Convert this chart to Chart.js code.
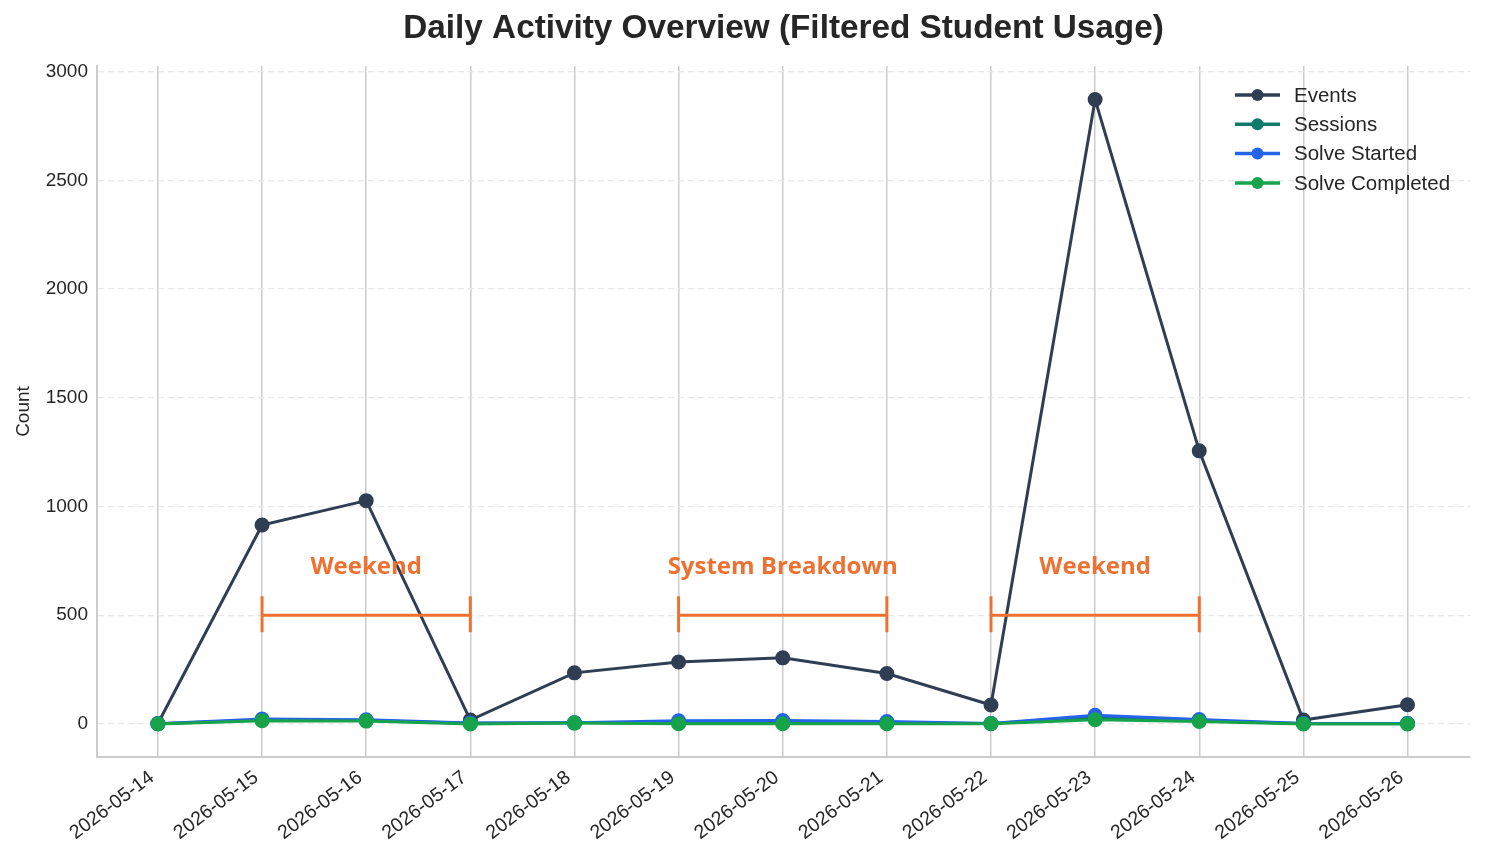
<!DOCTYPE html>
<html><head><meta charset="utf-8">
<script src="https://cdn.jsdelivr.net/npm/chart.js@4/dist/chart.umd.min.js"></script>
<style>html,body{margin:0;padding:0;background:#fff;}#wrap{width:1486px;height:855px;}</style>
</head><body><div id="wrap"><canvas id="c" width="1486" height="855"></canvas></div>
<script>
const categories = ["2026-05-14","2026-05-15","2026-05-16","2026-05-17","2026-05-18","2026-05-19","2026-05-20","2026-05-21","2026-05-22","2026-05-23","2026-05-24","2026-05-25","2026-05-26"];
const events = [2, 915, 1027, 18, 235, 285, 304, 232, 87, 2872, 1256, 18, 88];
const sessions = [1, 18, 16, 3, 5, 5, 5, 4, 2, 28, 15, 2, 2];
const solveStarted = [1, 23, 19, 4, 5, 15, 16, 11, 2, 40, 20, 2, 2];
const solveCompleted = [0, 15, 13, 0, 4, 1, 1, 1, 1, 19, 11, 0, 0];
const seriesNames = ["Events","Sessions","Solve Started","Solve Completed"];
const yTicks = [0, 500, 1000, 1500, 2000, 2500, 3000];
const annStart = [1, 5, 8];
const annEnd = [3, 7, 10];
const annLabels = ["Weekend","System Breakdown","Weekend"];
const annBarValue = 500;
const annTextValue = 720;

const colors = ["#2f3e53","#0f7a6a","#2563eb","#16a34a"];
const seriesData = [events, sessions, solveStarted, solveCompleted];
const FONT = "'Liberation Sans', Arial, sans-serif";

const datasets = seriesData.map((arr, i) => ({
  label: seriesNames[i],
  data: arr.map((v, k) => ({x: k, y: v})),
  borderColor: colors[i],
  backgroundColor: colors[i],
  pointBackgroundColor: colors[i],
  pointBorderColor: colors[i],
  borderWidth: 3,
  pointRadius: 6,
  pointHoverRadius: 6,
  tension: 0,
  order: 4 - i
}));

const overlay = {
  id: 'overlay',
  afterDatasetsDraw(chart) {
    const ctx = chart.ctx, xs = chart.scales.x, ys = chart.scales.y;
    ctx.save();
    // annotations
    ctx.strokeStyle = '#ee7131';
    ctx.fillStyle = '#ee7131';
    ctx.lineWidth = 3;
    const yb = ys.getPixelForValue(annBarValue);
    const yt = ys.getPixelForValue(annTextValue);
    annStart.forEach((s, i) => {
      const x1 = xs.getPixelForValue(s), x2 = xs.getPixelForValue(annEnd[i]);
      ctx.beginPath();
      ctx.moveTo(x1, yb); ctx.lineTo(x2, yb);
      ctx.moveTo(x1, yb - 19); ctx.lineTo(x1, yb + 17);
      ctx.moveTo(x2, yb - 19); ctx.lineTo(x2, yb + 17);
      ctx.stroke();
      ctx.font = "bold 24px 'Open Sans', sans-serif";
      ctx.textAlign = 'center'; ctx.textBaseline = 'middle';
      ctx.fillText(annLabels[i], (x1 + x2) / 2, yt);
    });
    // legend
    const lx = 1235, ly0 = 95, dy = 29.3;
    ctx.font = "20.5px " + FONT;
    ctx.textAlign = 'left'; ctx.textBaseline = 'middle';
    chart.data.datasets.forEach((d, i) => {
      const y = ly0 + i * dy;
      ctx.strokeStyle = d.borderColor; ctx.fillStyle = d.borderColor; ctx.lineWidth = 3.5;
      ctx.beginPath(); ctx.moveTo(lx, y); ctx.lineTo(lx + 45, y); ctx.stroke();
      ctx.beginPath(); ctx.arc(lx + 22.5, y, 6, 0, Math.PI * 2); ctx.fill();
      ctx.fillStyle = '#262626';
      ctx.fillText(d.label, lx + 59, y + 1);
    });
    // title
    ctx.font = "bold 33.3px " + FONT;
    ctx.fillStyle = '#262626';
    ctx.textAlign = 'center'; ctx.textBaseline = 'middle';
    ctx.fillText("Daily Activity Overview (Filtered Student Usage)", (chart.chartArea.left + chart.chartArea.right) / 2, 29);
    ctx.restore();
  }
};

new Chart(document.getElementById('c'), {
  type: 'line',
  data: { datasets },
  options: {
    responsive: false,
    animation: false,
    layout: { padding: { top: 66, right: 16, left: 0, bottom: 0 } },
    plugins: { legend: { display: false }, tooltip: { enabled: false }, title: { display: false } },
    scales: {
      x: {
        type: 'linear',
        min: -0.585, max: 12.6,
        afterBuildTicks(axis) { axis.ticks = categories.map((c, i) => ({ value: i })); },
        afterFit(axis) { axis.height = 98; },
        ticks: {
          callback: (v) => categories[v] ?? '',
          maxRotation: 37, minRotation: 37,
          font: { family: FONT, size: 19.5 }, color: '#262626', padding: 9, labelOffset: -6
        },
        grid: { color: '#cccccc', lineWidth: 1.5, drawTicks: false },
        border: { color: '#cccccc', width: 2 }
      },
      y: {
        min: -152, max: 3026,
        afterBuildTicks(axis) { axis.ticks = yTicks.map(v => ({ value: v })); },
        afterFit(axis) { axis.width = 97; },
        ticks: { font: { family: FONT, size: 19 }, color: '#262626', padding: 9, callback: (v) => String(v) },
        grid: { color: '#e8e8e8', lineWidth: 1.2, drawTicks: false },
        border: { color: '#cccccc', width: 2, dash: [6, 4] },
        title: { display: true, text: 'Count', font: { family: FONT, size: 19 }, color: '#262626', padding: { top: 12, bottom: 4 } }
      }
    }
  },
  plugins: [overlay]
});
</script></body></html>
